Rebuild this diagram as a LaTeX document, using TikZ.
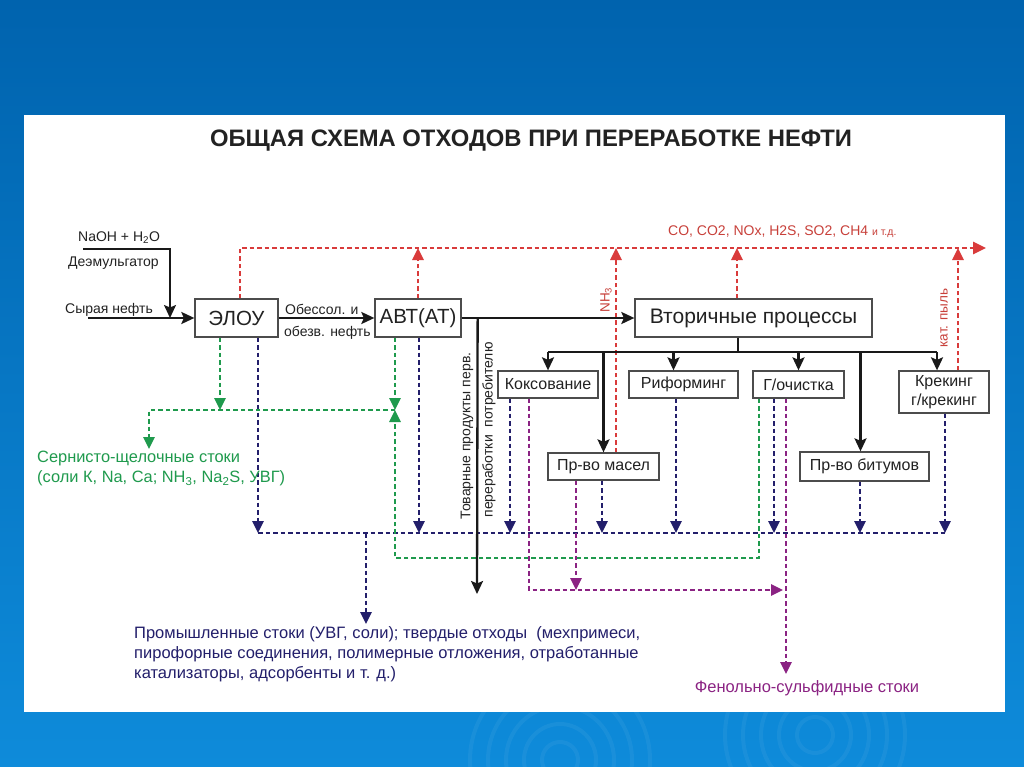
\documentclass[tikz,border=0pt]{standalone}
\usepackage{fontspec}
\setmainfont{Liberation Sans}
\usetikzlibrary{arrows.meta,calc}
\definecolor{bgtop}{HTML}{0063AE}
\definecolor{bgbot}{HTML}{0E8BDA}
\definecolor{cred}{HTML}{D93B3B}
\definecolor{tred}{HTML}{C8403A}
\definecolor{cnavy}{HTML}{231F6B}
\definecolor{cgreen}{HTML}{1F9A4D}
\definecolor{cpurple}{HTML}{8B2383}
\definecolor{ink}{HTML}{222222}
\tikzset{
  box/.style={draw=black!70, line width=1.3pt, fill=white, inner sep=0pt, text=ink, font=\fontsize{16}{19}\selectfont},
  bigbox/.style={box, font=\fontsize{20.5}{24}\selectfont},
  lbl/.style={inner sep=0pt, text=ink, font=\fontsize{14}{17}\selectfont},
  blkline/.style={draw=black!90, line width=2.3pt},
  blk/.style={blkline, -{Stealth[length=13pt,width=12pt,inset=2.5pt]}},
  dsh/.style={line width=2.6pt, dash pattern=on 4.5pt off 3pt},
  tipd/.style={-{Triangle[length=12pt,width=11pt]}},
  redl/.style={dsh, draw=cred},
  navl/.style={dsh, draw=cnavy},
  grnl/.style={dsh, draw=cgreen},
  purl/.style={dsh, draw=cpurple},
}
\begin{document}
\begin{tikzpicture}[x=1pt,y=-1pt]
\useasboundingbox (0,0) rectangle (1024,767);
% background
\shade[top color=bgtop, bottom color=bgbot] (0,0) rectangle (1024,767);
\begin{scope}
\clip (0,712) rectangle (1024,767);
\foreach \r in {18,36,54,72,90} {
  \draw[white, opacity=0.05, line width=4pt] (560,760) circle (\r);
  \draw[white, opacity=0.05, line width=4pt] (815,735) circle (\r);
}
\end{scope}
\fill[white] (24,115) rectangle (1005,712);

% title
\node[inner sep=0pt, text=ink, font=\bfseries\fontsize{23.8}{26}\selectfont] (title) at (531,141) {ОБЩАЯ СХЕМА ОТХОДОВ ПРИ ПЕРЕРАБОТКЕ НЕФТИ};

% boxes
\node[bigbox, minimum width=83pt, minimum height=38pt] (elou) at (236.5,318) {ЭЛОУ};
\node[bigbox, minimum width=86pt, minimum height=38pt] (abt) at (418,318) {АВТ(АТ)};
\node[bigbox, minimum width=237pt, minimum height=38pt, font=\fontsize{21}{24}\selectfont] (vtor) at (753.5,318) {Вторичные процессы};
\node[box, minimum width=100pt, minimum height=27pt] (koks) at (548,384.5) {Коксование};
\node[box, minimum width=109pt, minimum height=27pt] (rif) at (683.5,384.5) {Риформинг};
\node[box, minimum width=91pt, minimum height=27pt] (goch) at (798.5,384.5) {Г/очистка};
\node[box, minimum width=90pt, minimum height=42pt, align=center] (krek) at (944,392) {Крекинг\\г/крекинг};
\node[box, minimum width=111pt, minimum height=27pt] (masel) at (603.5,466.5) {Пр-во масел};
\node[box, minimum width=129pt, minimum height=29pt] (bit) at (864.5,466.5) {Пр-во битумов};

% input labels
\node[lbl, anchor=west] (naohl) at (78,238) {NaOH + H\textsubscript{2}O};
\node[lbl, anchor=west] (deeml) at (68,263) {Деэмульгатор};
\node[lbl, anchor=west] (crudel) at (65,310) {Сырая нефть};
\node[lbl, anchor=west] (obes1) at (285,309) {Обессол. и};
\node[lbl, anchor=west] (obes2) at (284,333) {обезв. нефть};

% coordinates
\coordinate (naoh) at (83,249);
\coordinate (inj) at (170,318);
\coordinate (crude) at (88,318);
\coordinate (gasend) at (986,248);
\coordinate (bus) at (0,352);
\coordinate (nbus) at (0,533);
\coordinate (gbus) at (0,410);
\coordinate (gloop) at (0,558);
\coordinate (ploop) at (0,590);
\coordinate (tov) at (477,594);
\coordinate (promin) at (366,624);
\coordinate (sernin) at (149,449);
\coordinate (fenin) at (786,674);
\coordinate (elouR) at ([xshift=3.5pt]elou.north);
\coordinate (elouG) at ([xshift=-16.5pt]elou.south);
\coordinate (elouN) at ([xshift=21.5pt]elou.south);
\coordinate (abtG) at ([xshift=-23pt]abt.south);
\coordinate (abtN) at ([xshift=1pt]abt.south);
\coordinate (maselR) at ([xshift=12.5pt]masel.north);
\coordinate (vtorR) at ([xshift=-16.5pt]vtor.north);
\coordinate (vtorB) at ([xshift=-15.5pt]vtor.south);
\coordinate (krekR) at ([xshift=14pt]krek.north);
\coordinate (krekB) at ([xshift=-7pt]krek.north);
\coordinate (rifB) at ([xshift=-10pt]rif.north);
\coordinate (bitB) at ([xshift=-4pt]bit.north);
\coordinate (koksN) at ([xshift=-38pt]koks.south);
\coordinate (koksP) at ([xshift=-19pt]koks.south);
\coordinate (maselN) at ([xshift=-1.5pt]masel.south);
\coordinate (maselP) at ([xshift=-27.5pt]masel.south);
\coordinate (rifN) at ([xshift=-7.5pt]rif.south);
\coordinate (gochG) at ([xshift=-39.5pt]goch.south);
\coordinate (gochN) at ([xshift=-24.5pt]goch.south);
\coordinate (gochP) at ([xshift=-12.5pt]goch.south);
\coordinate (bitN) at ([xshift=-4.5pt]bit.south);
\coordinate (krekN) at ([xshift=1pt]krek.south);
\coordinate (tovS) at ([xshift=16pt]abt.east);

% red gas lines
\draw[redl, -{Triangle[length=13pt,width=12pt]}] (elouR) |- (gasend);
\draw[redl, tipd] (abt.north) -- (abt.north |- gasend);
\draw[redl, tipd] (maselR) -- (maselR |- gasend);
\draw[redl, tipd] (vtorR) -- (vtorR |- gasend);
\draw[redl, tipd] (krekR) -- (krekR |- gasend);
\node[inner sep=0pt, anchor=west, text=tred, font=\fontsize{14}{16}\selectfont] (gas) at (668,232) {CO, CO2, NOx, H2S, SO2, CH4 {\fontsize{10.5}{12}\selectfont и т.д.}};
\node[inner sep=0pt, rotate=90, text=tred, font=\fontsize{13.5}{15}\selectfont] (nh3) at (606,300) {NH\textsubscript{3}};
\node[inner sep=0pt, rotate=90, text=tred, font=\fontsize{13.5}{15}\selectfont] (katp) at (944,318) {кат. пыль};

% navy lines
\draw[navl, tipd] (elouN) -- (elouN |- nbus);
\draw[navl] (elouN |- nbus) -- (krekN |- nbus);
\draw[navl, tipd] (abtN) -- (abtN |- nbus);
\draw[navl, tipd] (koksN) -- (koksN |- nbus);
\draw[navl, tipd] (maselN) -- (maselN |- nbus);
\draw[navl, tipd] (rifN) -- (rifN |- nbus);
\draw[navl, tipd] (gochN) -- (gochN |- nbus);
\draw[navl, tipd] (bitN) -- (bitN |- nbus);
\draw[navl, tipd] (krekN) -- (krekN |- nbus);
\draw[navl, tipd] (promin |- nbus) -- (promin);

% green lines
\draw[grnl, tipd] (elouG) -- (elouG |- gbus);
\draw[grnl, tipd] (abtG |- gbus) -| (sernin);
\draw[grnl, tipd] (abtG) -- (abtG |- gbus);
\draw[grnl, tipd] (gochG) |- (abtG |- gloop) -- (abtG |- gbus);

% purple lines
\draw[purl, tipd] (koksP) |- ([xshift=-3pt]fenin |- ploop);
\draw[purl, tipd] (maselP) -- (maselP |- ploop);
\draw[purl, tipd] (gochP) -- (fenin);

% black process lines
\draw[blk, line width=1.6pt] (naoh) -| (inj);
\draw[blk] (crude) -- (elou.west);
\draw[blk] (elou) -- (abt);
\draw[blk] (abt) -- (vtor);
\draw[blk] (tovS) -- (tov);
\draw[blkline] (vtorB) -- (vtorB |- bus);
\draw[blkline] (koks.north |- bus) -- (krekB |- bus);
\draw[blk] (koks.north |- bus) -- (koks.north);
\draw[blk] (masel.north |- bus) -- (masel.north);
\draw[blk] (rifB |- bus) -- (rifB);
\draw[blk] (goch.north |- bus) -- (goch.north);
\draw[blk] (bitB |- bus) -- (bitB);
\draw[blk] (krekB |- bus) -- (krekB);

% vertical labels
\node[lbl, rotate=90] (tov1) at (467,436) {Товарные продукты перв.};
\node[lbl, rotate=90] (tov2) at (489,430) {переработки\ \ потребителю};

% waste labels
\node[inner sep=0pt, anchor=north west, align=left, text=cgreen, font=\fontsize{16.4}{20}\selectfont] (sern) at (37,451) {Сернисто-щелочные стоки\\(соли К, Na, Ca; NH\textsubscript{3}, Na\textsubscript{2}S, УВГ)};
\node[inner sep=0pt, anchor=north west, align=left, text=cnavy, font=\fontsize{16.5}{20}\selectfont] (prom) at (134,626) {Промышленные стоки (УВГ, соли); твердые отходы\ \ (мехпримеси,\\пирофорные соединения, полимерные отложения, отработанные\\катализаторы, адсорбенты и т. д.)};
\node[inner sep=0pt, text=cpurple, font=\fontsize{16.5}{18}\selectfont] (fenol) at (807,688) {Фенольно-сульфидные стоки};
\end{tikzpicture}
\end{document}
